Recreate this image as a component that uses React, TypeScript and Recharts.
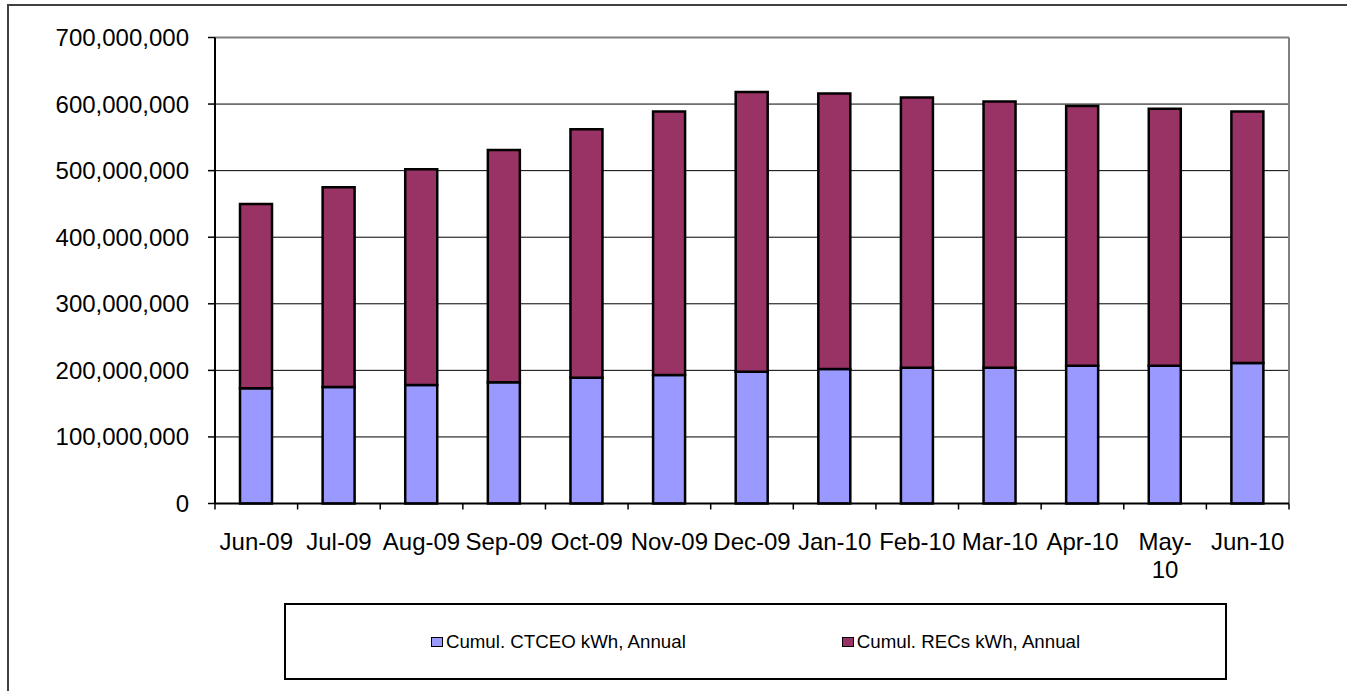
import { BarChart, Bar, XAxis, YAxis, CartesianGrid, Legend } from 'recharts';

const months = ['Jun-09', 'Jul-09', 'Aug-09', 'Sep-09', 'Oct-09', 'Nov-09', 'Dec-09', 'Jan-10', 'Feb-10', 'Mar-10', 'Apr-10', 'May-10', 'Jun-10'];
const ctceoKwh = [173e6, 175e6, 178e6, 182e6, 189e6, 193e6, 198e6, 202e6, 204e6, 204e6, 207e6, 207e6, 211e6];
const recsKwh = [277e6, 300e6, 324e6, 349e6, 373e6, 396e6, 420e6, 414e6, 406e6, 400e6, 390e6, 386e6, 378e6];
const yTicks = [0, 100e6, 200e6, 300e6, 400e6, 500e6, 600e6, 700e6];
// Excel wrapped this one label onto two lines
const twoLineLabels = ['May-10'];

const seriesNames = ['Cumul. CTCEO kWh, Annual', 'Cumul. RECs kWh, Annual'];
const seriesColors = ['#9999FF', '#993366'];

const data = months.map((month, i) => ({ month, ctceo: ctceoKwh[i], recs: recsKwh[i] }));

const FONT = '"Liberation Sans", Arial, sans-serif';

function MonthTick(props: any) {
  const { x, y, payload, index, visibleTicksCount } = props;
  const half = payload.offset ?? 0;
  const label = String(payload.value);
  const cut = label.indexOf('-') + 1;
  const lines = twoLineLabels.includes(label) ? [label.slice(0, cut), label.slice(cut)] : [label];
  return (
    <g>
      <line x1={x - half} x2={x - half} y1={y} y2={y + 6} stroke="#000" strokeWidth={1.5} />
      {index === visibleTicksCount - 1 && (
        <line x1={x + half} x2={x + half} y1={y} y2={y + 6} stroke="#000" strokeWidth={1.5} />
      )}
      <text x={x} y={y} textAnchor="middle" fontSize={24} fill="#000" fontFamily={FONT}>
        {lines.map((l, i) => (
          <tspan key={i} x={x} dy={i === 0 ? 46.7 : 28}>{l}</tspan>
        ))}
      </text>
    </g>
  );
}

function LegendBox() {
  return (
    <div
      style={{
        boxSizing: 'border-box',
        width: '100%',
        height: '100%',
        border: '2px solid #000',
        display: 'flex',
        alignItems: 'center',
        justifyContent: 'center',
        gap: 156,
        fontFamily: FONT,
        fontSize: 18.7,
        color: '#000',
      }}
    >
      {seriesNames.map((name, i) => (
        <div key={name} style={{ display: 'flex', alignItems: 'center' }}>
          <span
            style={{
              display: 'inline-block',
              boxSizing: 'border-box',
              width: 12,
              height: 10,
              border: '1px solid #000',
              background: seriesColors[i],
              marginRight: 3,
            }}
          />
          {name}
        </div>
      ))}
    </div>
  );
}

export default function App() {
  return (
    <div
      style={{
        position: 'fixed',
        left: 7,
        top: 4,
        width: 1340,
        height: 687,
        boxSizing: 'border-box',
        borderTop: '2px solid #404040',
        borderLeft: '2px solid #404040',
        background: '#fff',
        fontFamily: FONT,
      }}
    >
      <BarChart
        width={1338}
        height={685}
        data={data}
        barSize={32}
        margin={{ top: 31.5, right: 58, left: 106, bottom: 127.5 }}
      >
        <CartesianGrid vertical={false} stroke="#000" strokeWidth={1} horizontalValues={yTicks.slice(1, -1)} />
        <CartesianGrid
          stroke="#808080"
          strokeWidth={2}
          horizontalValues={[yTicks[yTicks.length - 1]]}
          verticalCoordinatesGenerator={({ offset }: any) => [offset.left + offset.width]}
        />
        <Bar dataKey="ctceo" name={seriesNames[0]} stackId="a" fill={seriesColors[0]} stroke="#000" strokeWidth={2.5} isAnimationActive={false} />
        <Bar dataKey="recs" name={seriesNames[1]} stackId="a" fill={seriesColors[1]} stroke="#000" strokeWidth={2.5} isAnimationActive={false} />
        <XAxis
          dataKey="month"
          height={60}
          interval={0}
          tickSize={0}
          tickMargin={0}
          tickLine={false}
          axisLine={{ stroke: '#000', strokeWidth: 2 }}
          tick={<MonthTick />}
        />
        <YAxis
          width={100}
          domain={[0, 700e6]}
          ticks={yTicks}
          interval={0}
          tickSize={7}
          tickMargin={19}
          axisLine={{ stroke: '#000', strokeWidth: 2 }}
          tickLine={{ stroke: '#000', strokeWidth: 1.5 }}
          tick={{ fill: '#000', fontSize: 24, fontFamily: FONT }}
          tickFormatter={(v: number) => v.toLocaleString('en-US')}
        />
        <Legend
          verticalAlign="middle"
          layout="horizontal"
          content={<LegendBox />}
          wrapperStyle={{ left: 275, top: 597, width: 943, height: 77, margin: 0 }}
        />
      </BarChart>
    </div>
  );
}
